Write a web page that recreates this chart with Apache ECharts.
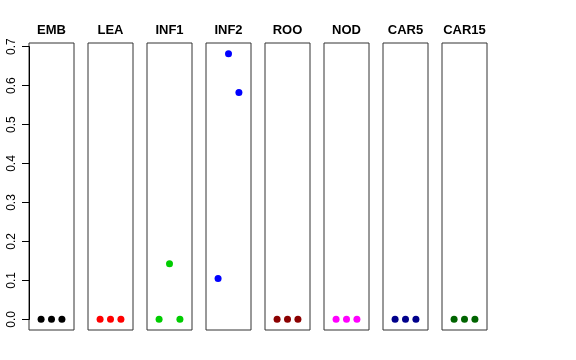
<!DOCTYPE html>
<html><head><meta charset="utf-8">
<script src="https://cdn.jsdelivr.net/npm/echarts@6/dist/echarts.min.js"></script>
<style>html,body{margin:0;padding:0;background:#fff}#c{width:576px;height:360px}</style>
</head><body><div id="c"></div>
<script>
var categories = ['EMB','LEA','INF1','INF2','ROO','NOD','CAR5','CAR15'];
var colors = ['#000000','#FF0000','#00CD00','#0000FF','#8B0000','#FF00FF','#00008B','#006400'];
var xPositions = [1, 2, 3];
var valuesEMB = [0, 0, 0];
var valuesLEA = [0, 0, 0];
var valuesINF1 = [0, 0.143, 0];
var valuesINF2 = [0.105, 0.682, 0.582];
var valuesROO = [0, 0, 0];
var valuesNOD = [0, 0, 0];
var valuesCAR5 = [0, 0, 0];
var valuesCAR15 = [0, 0, 0];
var yTickLabels = ['0.0','0.1','0.2','0.3','0.4','0.5','0.6','0.7'];
var allValues = [valuesEMB, valuesLEA, valuesINF1, valuesINF2, valuesROO, valuesNOD, valuesCAR5, valuesCAR15];

var dataMax = 0.682, ext = dataMax * 0.04;
var yMin = -ext, yMax = dataMax + ext;
var xMin = 1 - 1.16, xMax = 3 + 1.16;

var left0 = 29, pitch = 59, boxW = 45, boxTop = 43, boxH = 287;
var grids = [], xAxes = [], yAxes = [], series = [], titles = [];
categories.forEach(function (name, i) {
  grids.push({left: left0 + pitch * i, top: boxTop, width: boxW, height: boxH, show: true,
    borderColor: '#333', borderWidth: 1, backgroundColor: 'transparent'});
  xAxes.push({gridIndex: i, type: 'value', min: xMin, max: xMax, show: false});
  yAxes.push({gridIndex: i, type: 'value', min: yMin, max: yMax, show: false});
  series.push({type: 'scatter', xAxisIndex: i, yAxisIndex: i, symbolSize: 7,
    itemStyle: {color: colors[i], opacity: 1},
    data: allValues[i].map(function (v, k) { return [xPositions[k], v]; })});
  titles.push({text: name, left: left0 + pitch * i + boxW / 2, top: 24, textAlign: 'center', padding: 0,
    textStyle: {fontFamily: 'Liberation Sans, Arial, sans-serif', fontWeight: 'bold', fontSize: 13, color: '#000'}});
});
var pxPerUnit = boxH / (yMax - yMin);
var axTop = boxTop + (yMax - 0.7) * pxPerUnit;
var axH = 0.7 * pxPerUnit;
grids.push({left: left0, top: axTop, width: boxW, height: axH, show: false});
xAxes.push({gridIndex: 8, type: 'value', min: 0, max: 1, show: false});
yAxes.push({gridIndex: 8, type: 'value', min: 0, max: 0.7, interval: 0.1, position: 'left',
  axisLine: {show: true, lineStyle: {color: '#000', width: 1}},
  axisTick: {show: true, length: 7, inside: false, lineStyle: {color: '#000'}},
  splitLine: {show: false},
  axisLabel: {show: true, rotate: 90, margin: 11, fontSize: 12, color: '#000',
    fontFamily: 'Liberation Sans, Arial, sans-serif',
    formatter: function (v) { return yTickLabels[Math.round(v * 10)]; }}});

var chart = echarts.init(document.getElementById('c'), null, {renderer: 'canvas'});
chart.setOption({animation: false, backgroundColor: '#fff', title: titles,
  grid: grids, xAxis: xAxes, yAxis: yAxes, series: series});
</script></body></html>
